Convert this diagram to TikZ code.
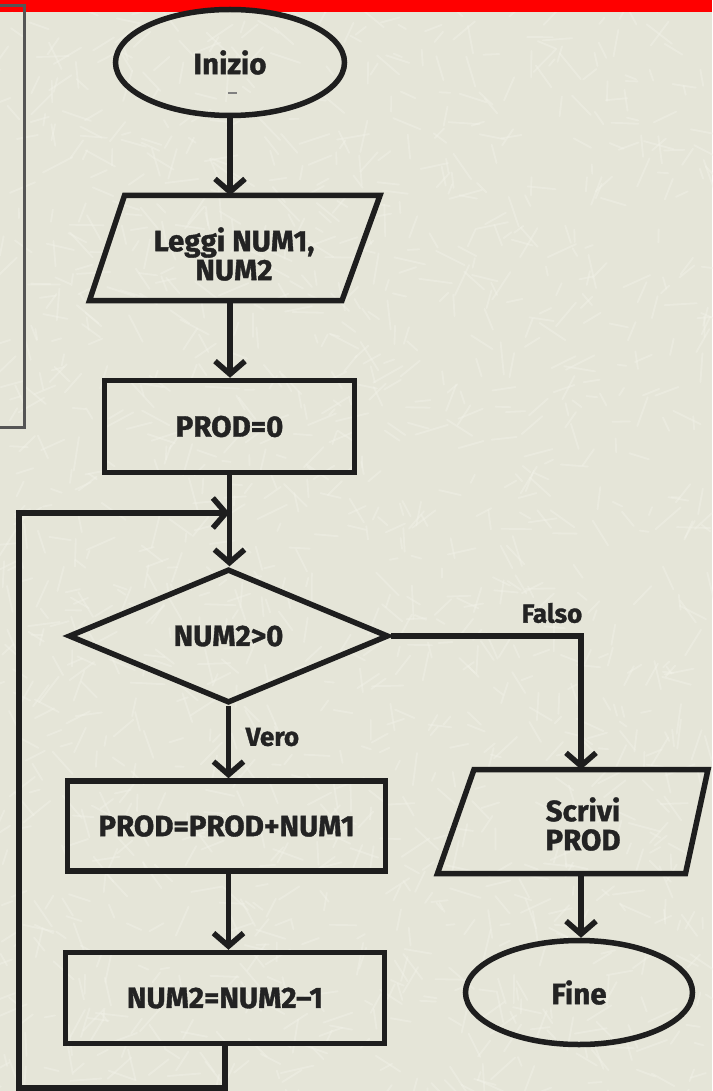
\documentclass[tikz,border=0pt]{standalone}
\usepackage{fontspec}
\setmainfont{Fira Sans}[BoldFeatures={FakeBold=1.2}]
\usetikzlibrary{shapes.geometric,arrows.meta,calc}

\definecolor{paper}{HTML}{E5E5D8}
\definecolor{scratch}{HTML}{F2F2E8}
\definecolor{ink}{HTML}{1E1E1E}
\definecolor{txt}{HTML}{232323}
\definecolor{barred}{HTML}{FF0000}
\definecolor{frame}{HTML}{555555}

\begin{document}
\begin{tikzpicture}[x=1pt,y=-1pt,line width=5.5pt,
  every node/.style={inner sep=0pt, align=center, text=txt,
    font=\bfseries\fontsize{29.5}{29}\selectfont},
  flow/.style={draw=ink, line width=5.5pt},
  term/.style={flow, ellipse},
  proc/.style={flow, rectangle},
  iobox/.style={rectangle, draw=none, outer sep=0pt},
  dec/.style={flow, diamond},
  wire/.style={draw=ink, line width=5.5pt},
  arr/.style={wire, -{Straight Barb[length=13pt,width=30pt]}},
  lbl/.style={font=\bfseries\fontsize{26}{27}\selectfont}]

% paper background with light scratches
\fill[paper] (0,0) rectangle (712,1091);
\useasboundingbox (0,0) rectangle (712,1091);
\pgfmathsetseed{11}
\foreach \i in {1,...,1400}{
  \pgfmathsetmacro\xx{rnd*712}
  \pgfmathsetmacro\yy{rnd*1091}
  \pgfmathsetmacro\aa{rnd*180}
  \pgfmathsetmacro\ll{8+rnd*26}
  \draw[scratch, line width=1.8pt, line cap=round, opacity=0.45] (\xx,\yy) -- ++(\aa:\ll);
}

% red band and side frame
\fill[barred] (0,0) rectangle (712,12);
\draw[frame, line width=3pt] (0,6) -- (24,6) -- (24,427) -- (0,427);

% nodes
\node[term, minimum width=229pt, minimum height=106pt] (inizio) at (230,62.5) {Inizio};
\draw[gray, line width=1.5pt] (228,93) -- (237,93);

\node[iobox, minimum width=254pt, minimum height=105pt] (leggi) at (234,248) {};
\draw[flow] ($(leggi.north west)+(17.5,0)$) -- ($(leggi.north east)+(19,0)$)
  -- ($(leggi.south east)+(-19,0)$) -- ($(leggi.south west)+(-17.5,0)$) -- cycle;
\node (leggitxt) at (234,254) {Leggi NUM1,\\NUM2};

\node[proc, minimum width=250pt, minimum height=92pt] (prod0) at (229.5,426.5) {PROD=0};

\node[dec, minimum width=320pt, minimum height=134pt] (test) at (228.5,636) {NUM2>0};

\node[proc, minimum width=318pt, minimum height=90pt] (add) at (226.5,826) {PROD=PROD+NUM1};

\node[proc, minimum width=319pt, minimum height=91pt] (decr) at (225,998) {NUM2=NUM2--1};

\node[iobox, minimum width=240pt, minimum height=104pt] (scrivi) at (581,821.5) {};
\draw[flow] ($(scrivi.north west)+(13,0)$) -- ($(scrivi.north east)+(7,0)$)
  -- ($(scrivi.south east)+(-15.5,0)$) -- ($(scrivi.south west)+(-23.5,0)$) -- cycle;
\node (scrivitxt) at (583,824) {Scrivi\\PROD};

\node[term, minimum width=227pt, minimum height=104pt] (fine) at (579,992.5) {Fine};

% labels
\node[lbl] (falso) at (552,613) {Falso};
\node[lbl, anchor=west] (vero) at (243,737) {Vero};

% connectors
\draw[arr] (inizio.south) -- (inizio.south |- leggi.north);
\draw[arr] (inizio.south |- leggi.south) -- (inizio.south |- prod0.north);
\draw[arr] (prod0.south) -- (prod0.south |- test.north);
\draw[arr] (test.south) -- (test.south |- add.north);
\draw[arr] (add.south -| test.south) -- (test.south |- decr.north);
\draw[arr] (test.east) -| (scrivi.north);
\draw[arr] (scrivi.south) -- (scrivi.south |- fine.north);

% loop back to the test
\coordinate (loopbl) at (19,1088);
\coordinate (looptl) at (19,513);
\draw[arr] (decr.south) |- (loopbl) -- (looptl) -- (looptl -| prod0.south);
\end{tikzpicture}
\end{document}
